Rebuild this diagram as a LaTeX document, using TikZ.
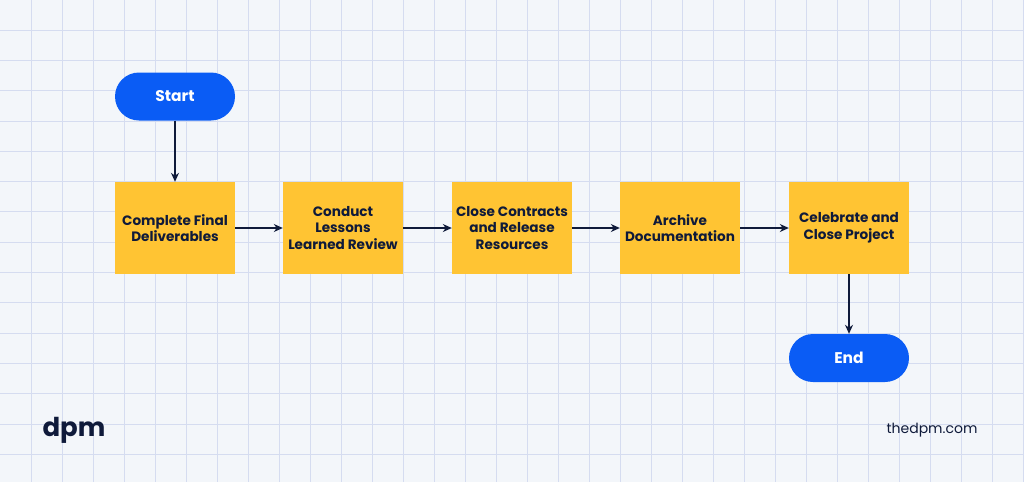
\documentclass[tikz,border=0pt]{standalone}
\usepackage{fontspec}
\setmainfont{Poppins}
\usetikzlibrary{arrows.meta}
\definecolor{bg}{HTML}{F3F6FA}
\definecolor{gridc}{HTML}{D5DCF0}
\definecolor{bluec}{HTML}{0A5CF5}
\definecolor{yel}{HTML}{FFC433}
\definecolor{navy}{HTML}{0F1A3A}
\tikzset{
  box/.style={fill=yel, minimum width=120pt, minimum height=92pt, align=center, font=\bfseries\fontsize{13.6}{16.6}\selectfont, text=navy, inner sep=1pt},
  term/.style={fill=bluec, rounded corners=24pt, minimum width=120pt, minimum height=48pt, font=\bfseries\fontsize{15.5}{18}\selectfont, text=white},
  arr/.style={-{Stealth[length=9pt,width=8pt]}, draw=navy, line width=1.2pt}
}
\begin{document}
\begin{tikzpicture}[x=1pt,y=-1pt]
\fill[bg] (0,0) rectangle (1024,482);
\useasboundingbox (0,0) rectangle (1024,482);
\foreach \i in {0,...,33} \draw[gridc, line width=0.8pt] (31+31*\i,0) -- (31+31*\i,482);
\foreach \j in {0,...,15} \draw[gridc, line width=0.8pt] (0,30+30.3*\j) -- (1024,30+30.3*\j);
\node[term] (s) at (175,96.5) {Start};
\node[box] (b1) at (175,228) {Complete Final\\Deliverables};
\node[box] (b2) at (343,228) {Conduct\\Lessons\\Learned Review};
\node[box] (b3) at (512,228) {Close Contracts\\and Release\\Resources};
\node[box] (b4) at (680,228) {Archive\\Documentation};
\node[box] (b5) at (849,228) {Celebrate and\\Close Project};
\node[term] (e) at (849,358) {End};
\draw[arr] (s) -- (b1);
\draw[arr] (b1) -- (b2);
\draw[arr] (b2) -- (b3);
\draw[arr] (b3) -- (b4);
\draw[arr] (b4) -- (b5);
\draw[arr] (b5) -- (e);
\node[font=\bfseries\fontsize{26}{28}\selectfont, text=navy] (logo) at (74,430) {dpm};
\node[font=\fontsize{14}{16}\selectfont, text=navy] (url) at (932,430) {thedpm.com};
\end{tikzpicture}
\end{document}
